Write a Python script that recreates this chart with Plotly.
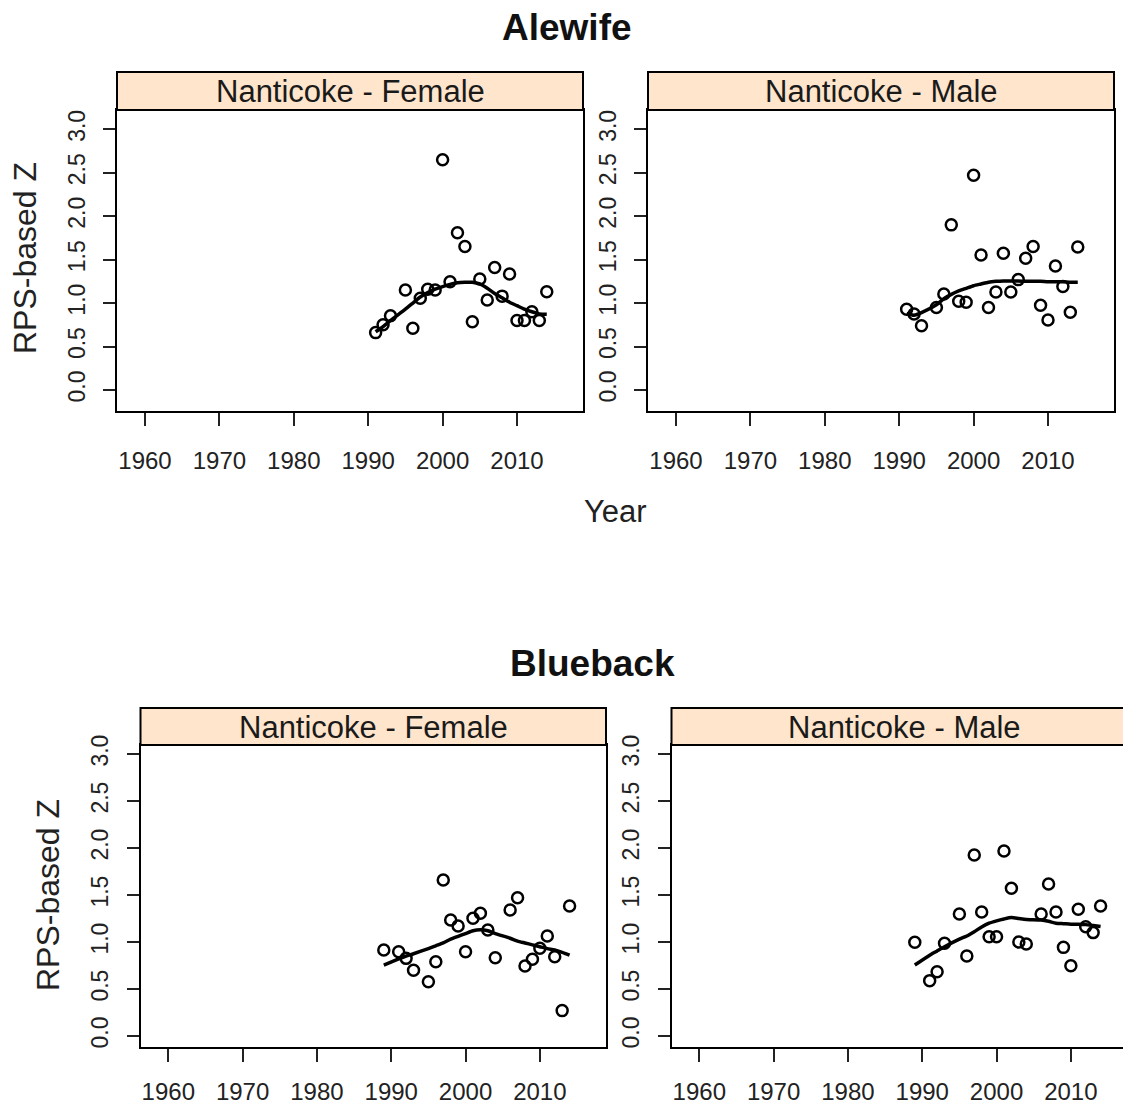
import plotly.graph_objects as go

W, H = 1131, 1107

# ---------------- data ----------------
ale_f_years = [1991, 1992, 1993, 1995, 1996, 1997, 1998, 1999, 2000, 2001, 2002, 2003,
               2004, 2005, 2006, 2007, 2008, 2009, 2010, 2011, 2012, 2013, 2014]
ale_f_z = [0.66, 0.75, 0.855, 1.15, 0.71, 1.055, 1.16, 1.15, 2.65, 1.246, 1.81, 1.65,
           0.786, 1.277, 1.035, 1.41, 1.08, 1.335, 0.80, 0.80, 0.90, 0.80, 1.13]
ale_f_fit = [0.67, 0.73, 0.80, 0.93, 1.00, 1.07, 1.12, 1.16, 1.19, 1.215, 1.235, 1.24,
             1.24, 1.22, 1.17, 1.11, 1.06, 1.01, 0.97, 0.93, 0.90, 0.875, 0.87]

ale_m_years = [1991, 1992, 1993, 1995, 1996, 1997, 1998, 1999, 2000, 2001, 2002, 2003,
               2004, 2005, 2006, 2007, 2008, 2009, 2010, 2011, 2012, 2013, 2014]
ale_m_z = [0.93, 0.875, 0.74, 0.95, 1.105, 1.90, 1.02, 1.01, 2.47, 1.553, 0.95, 1.128,
           1.573, 1.128, 1.27, 1.515, 1.65, 0.975, 0.805, 1.427, 1.19, 0.894, 1.645]
ale_m_fit = [0.88, 0.86, 0.89, 0.98, 1.05, 1.10, 1.14, 1.17, 1.20, 1.22, 1.24, 1.25,
             1.255, 1.255, 1.255, 1.25, 1.25, 1.25, 1.245, 1.245, 1.245, 1.24, 1.24]

blu_f_years = [1989, 1991, 1992, 1993, 1995, 1996, 1997, 1998, 1999, 2000, 2001, 2002,
               2003, 2004, 2006, 2007, 2008, 2009, 2010, 2011, 2012, 2013, 2014]
blu_f_z = [0.915, 0.897, 0.826, 0.70, 0.578, 0.79, 1.66, 1.234, 1.17, 0.897, 1.252, 1.305,
           1.128, 0.833, 1.34, 1.47, 0.745, 0.816, 0.933, 1.064, 0.844, 0.27, 1.383]
blu_f_fit = [0.755, 0.82, 0.85, 0.875, 0.93, 0.96, 0.99, 1.03, 1.06, 1.09, 1.12, 1.13,
             1.12, 1.09, 1.04, 1.01, 0.99, 0.97, 0.95, 0.93, 0.915, 0.89, 0.86]

blu_m_years = [1989, 1991, 1992, 1993, 1995, 1996, 1997, 1998, 1999, 2000, 2001, 2002,
               2003, 2004, 2006, 2007, 2008, 2009, 2010, 2011, 2012, 2013, 2014]
blu_m_z = [0.997, 0.589, 0.684, 0.986, 1.298, 0.851, 1.926, 1.32, 1.056, 1.056, 1.968, 1.571,
           1.0, 0.979, 1.298, 1.617, 1.32, 0.943, 0.748, 1.348, 1.163, 1.10, 1.383]
blu_m_fit = [0.755, 0.86, 0.905, 0.95, 1.03, 1.064, 1.11, 1.16, 1.20, 1.225, 1.245, 1.26,
             1.25, 1.24, 1.234, 1.22, 1.20, 1.195, 1.19, 1.19, 1.185, 1.175, 1.165]

x_ticks = [1960, 1970, 1980, 1990, 2000, 2010]
y_ticks = [0.0, 0.5, 1.0, 1.5, 2.0, 2.5, 3.0]
y_tick_text = ["0.0", "0.5", "1.0", "1.5", "2.0", "2.5", "3.0"]

panel_titles = ["Nanticoke - Female", "Nanticoke - Male",
                "Nanticoke - Female", "Nanticoke - Male"]
species = ["Alewife", "Blueback"]
x_label = "Year"
y_label = "RPS-based Z"

# ---------------- layout geometry (pixels) ----------------
FONT = "Liberation Sans, Arial, sans-serif"
STRIP_COLOR = "#ffe5cc"
OFF = 8  # page body margin


def px(x):
    return (x - OFF) / W


def py(y):
    return 1 - (y - OFF) / H


panels = [
    dict(x0=117, x1=583, top=110, bot=411, stop=72, yr=[-0.242, 3.222], xr=[1956.24, 2018.87], xs=14),
    dict(x0=648, x1=1114, top=110, bot=411, stop=72, yr=[-0.242, 3.222], xr=[1956.24, 2018.87], xs=14),
    dict(x0=140.5, x1=606, top=745, bot=1047, stop=708, yr=[-0.117, 3.096], xr=[1956.26, 2018.9], xs=9),
    dict(x0=671.5, x1=1137, top=745, bot=1047, stop=708, yr=[-0.117, 3.096], xr=[1956.26, 2018.9], xs=9),
]

series = [
    (ale_f_years, ale_f_z, ale_f_fit),
    (ale_m_years, ale_m_z, ale_m_fit),
    (blu_f_years, blu_f_z, blu_f_fit),
    (blu_m_years, blu_m_z, blu_m_fit),
]

fig = go.Figure()
shapes = []
annotations = []

for i, (p, (yrs, z, fit)) in enumerate(zip(panels, series), start=1):
    xa = "x" if i == 1 else f"x{i}"
    ya = "y" if i == 1 else f"y{i}"
    fig.add_trace(go.Scatter(
        x=yrs, y=z, mode="markers", xaxis=xa, yaxis=ya,
        marker=dict(symbol="circle-open", size=11, color="black",
                    line=dict(width=2.5, color="black")),
        showlegend=False, hoverinfo="x+y"))
    fig.add_trace(go.Scatter(
        x=yrs, y=fit, mode="lines", xaxis=xa, yaxis=ya,
        line=dict(color="black", width=3.5, shape="spline", smoothing=0.6),
        showlegend=False, hoverinfo="skip"))

    xkey = "xaxis" if i == 1 else f"xaxis{i}"
    ykey = "yaxis" if i == 1 else f"yaxis{i}"
    fig.update_layout(**{
        xkey: dict(domain=[px(p["x0"]), min(1.0, px(p["x1"]))], anchor=ya,
                   range=p["xr"], tickvals=x_ticks, ticktext=[str(t) for t in x_ticks],
                   showgrid=False, zeroline=False, showline=True, mirror=True,
                   linecolor="black", linewidth=2, ticks="outside", ticklen=13,
                   tickwidth=2, tickcolor="#222", ticklabelstandoff=p["xs"],
                   automargin=False,
                   tickfont=dict(family=FONT, size=24, color="#222")),
        ykey: dict(domain=[py(p["bot"]), py(p["top"])], anchor=xa,
                   range=p["yr"], tickvals=y_ticks, ticktext=y_tick_text,
                   showgrid=False, zeroline=False, showline=True, mirror=True,
                   linecolor="black", linewidth=2, ticks="outside", ticklen=12,
                   tickwidth=2, tickcolor="#222", tickangle=-90, ticklabelstandoff=9,
                   automargin=False,
                   tickfont=dict(family=FONT, size=23, color="#222")),
    })

    # strip
    shapes.append(dict(type="rect", xref="paper", yref="paper",
                       x0=px(p["x0"]), x1=px(p["x1"]), y0=py(p["top"]), y1=py(p["stop"]),
                       fillcolor=STRIP_COLOR, line=dict(color="black", width=2),
                       layer="above"))
    annotations.append(dict(xref="paper", yref="paper",
                            x=px((p["x0"] + p["x1"]) / 2),
                            y=py((p["top"] + p["stop"]) / 2 + 1),
                            text=panel_titles[i - 1], showarrow=False,
                            font=dict(family=FONT, size=31, color="#1a1a1a"),
                            xanchor="center", yanchor="middle"))

# species titles
annotations.append(dict(xref="paper", yref="paper", x=px(567), y=py(27),
                        text="<b>" + species[0] + "</b>", showarrow=False,
                        font=dict(family=FONT, size=37, color="#111"),
                        xanchor="center", yanchor="middle"))
annotations.append(dict(xref="paper", yref="paper", x=px(592), y=py(663),
                        text="<b>" + species[1] + "</b>", showarrow=False,
                        font=dict(family=FONT, size=37, color="#111"),
                        xanchor="center", yanchor="middle"))
# x label
annotations.append(dict(xref="paper", yref="paper", x=px(615), y=py(511),
                        text=x_label, showarrow=False,
                        font=dict(family=FONT, size=31, color="#222"),
                        xanchor="center", yanchor="middle"))
# y labels
annotations.append(dict(xref="paper", yref="paper", x=px(25), y=py(258),
                        text=y_label, showarrow=False, textangle=-90,
                        font=dict(family=FONT, size=32, color="#222"),
                        xanchor="center", yanchor="middle"))
annotations.append(dict(xref="paper", yref="paper", x=px(48), y=py(895),
                        text=y_label, showarrow=False, textangle=-90,
                        font=dict(family=FONT, size=32, color="#222"),
                        xanchor="center", yanchor="middle"))

fig.update_layout(
    width=W, height=H,
    margin=dict(l=0, r=0, t=0, b=0, autoexpand=False),
    paper_bgcolor="white", plot_bgcolor="white",
    shapes=shapes, annotations=annotations,
    showlegend=False,
)

fig.write_html("out.html")
